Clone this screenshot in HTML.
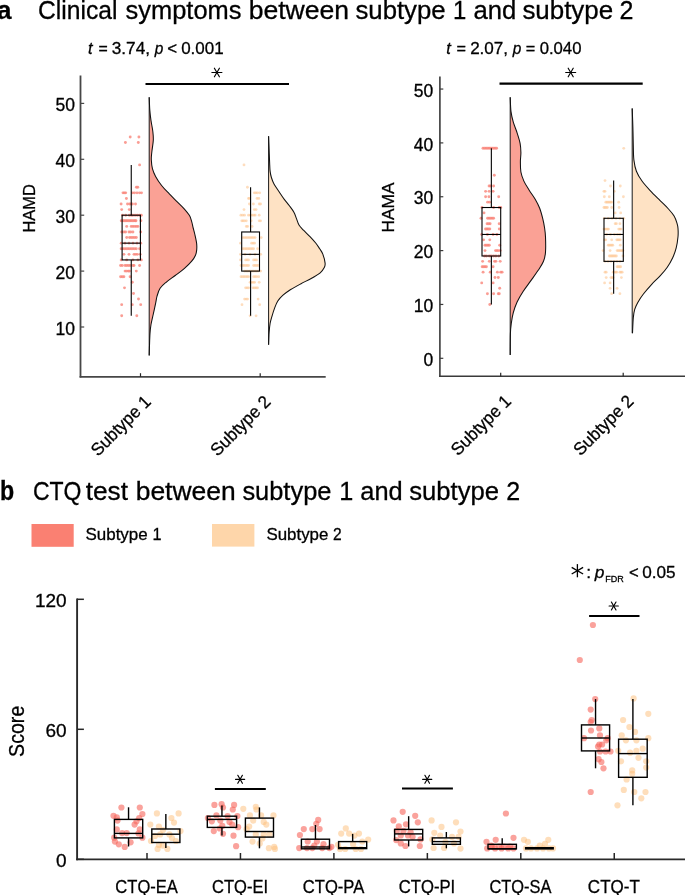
<!DOCTYPE html>
<html><head><meta charset="utf-8"><style>
html,body{margin:0;padding:0;background:#fff;width:685px;height:895px;overflow:hidden}
svg{display:block;will-change:transform}
text{font-family:"Liberation Sans",sans-serif;stroke:#000;stroke-width:0.3px}
</style></head><body>
<svg width="685" height="895" viewBox="0 0 685 895">
<rect width="685" height="895" fill="#fff"/>
<text x="-2.90" y="19.30" font-size="26" font-weight="bold" fill="#000">a</text>
<text x="37.95" y="19.30" font-size="26" textLength="79.5" lengthAdjust="spacingAndGlyphs" fill="#000">Clinical</text>
<text x="125.59" y="19.30" font-size="26" textLength="115.93" lengthAdjust="spacingAndGlyphs" fill="#000">symptoms</text>
<text x="248.69" y="19.30" font-size="26" textLength="100.44" lengthAdjust="spacingAndGlyphs" fill="#000">between</text>
<text x="355.48" y="19.30" font-size="26" textLength="90.16" lengthAdjust="spacingAndGlyphs" fill="#000">subtype</text>
<text x="452.88" y="19.30" font-size="26" textLength="13.29" lengthAdjust="spacingAndGlyphs" fill="#000">1</text>
<text x="473.41" y="19.30" font-size="26" textLength="42.85" lengthAdjust="spacingAndGlyphs" fill="#000">and</text>
<text x="522.38" y="19.30" font-size="26" textLength="90.77" lengthAdjust="spacingAndGlyphs" fill="#000">subtype</text>
<text x="619.44" y="19.30" font-size="26" textLength="13.92" lengthAdjust="spacingAndGlyphs" fill="#000">2</text>
<text x="88.05" y="54.40" font-size="17.3" textLength="4.58" lengthAdjust="spacingAndGlyphs" font-style="italic" fill="#000">t</text>
<text x="98.43" y="54.40" font-size="17.3" textLength="9.26" lengthAdjust="spacingAndGlyphs" fill="#000">=</text>
<text x="111.74" y="54.40" font-size="17.3" textLength="38.3" lengthAdjust="spacingAndGlyphs" fill="#000">3.74,</text>
<text x="154.79" y="54.40" font-size="17.3" textLength="8.61" lengthAdjust="spacingAndGlyphs" font-style="italic" fill="#000">p</text>
<text x="167.27" y="54.40" font-size="17.3" textLength="9.86" lengthAdjust="spacingAndGlyphs" fill="#000">&lt;</text>
<text x="181.14" y="54.40" font-size="17.3" textLength="42.49" lengthAdjust="spacingAndGlyphs" fill="#000">0.001</text>
<text x="446.15" y="54.40" font-size="17.3" textLength="4.58" lengthAdjust="spacingAndGlyphs" font-style="italic" fill="#000">t</text>
<text x="456.51" y="54.40" font-size="17.3" textLength="9.5" lengthAdjust="spacingAndGlyphs" fill="#000">=</text>
<text x="470.14" y="54.40" font-size="17.3" textLength="37.99" lengthAdjust="spacingAndGlyphs" fill="#000">2.07,</text>
<text x="512.79" y="54.40" font-size="17.3" textLength="8.61" lengthAdjust="spacingAndGlyphs" font-style="italic" fill="#000">p</text>
<text x="525.81" y="54.40" font-size="17.3" textLength="9.5" lengthAdjust="spacingAndGlyphs" fill="#000">=</text>
<text x="539.65" y="54.40" font-size="17.3" textLength="41.81" lengthAdjust="spacingAndGlyphs" fill="#000">0.040</text>
<line x1="80.50" y1="75.50" x2="80.50" y2="377.60" stroke="#474747" stroke-width="1.8" stroke-linecap="butt"/>
<line x1="79.60" y1="376.80" x2="325.70" y2="376.80" stroke="#474747" stroke-width="1.8" stroke-linecap="butt"/>
<line x1="80.50" y1="103.40" x2="84.20" y2="103.40" stroke="#474747" stroke-width="1.2" stroke-linecap="butt"/>
<text x="75.00" y="111.00" font-size="17.5" text-anchor="end" fill="#000">50</text>
<line x1="80.50" y1="159.30" x2="84.20" y2="159.30" stroke="#474747" stroke-width="1.2" stroke-linecap="butt"/>
<text x="75.00" y="166.90" font-size="17.5" text-anchor="end" fill="#000">40</text>
<line x1="80.50" y1="215.20" x2="84.20" y2="215.20" stroke="#474747" stroke-width="1.2" stroke-linecap="butt"/>
<text x="75.00" y="222.80" font-size="17.5" text-anchor="end" fill="#000">30</text>
<line x1="80.50" y1="271.10" x2="84.20" y2="271.10" stroke="#474747" stroke-width="1.2" stroke-linecap="butt"/>
<text x="75.00" y="278.70" font-size="17.5" text-anchor="end" fill="#000">20</text>
<line x1="80.50" y1="327.00" x2="84.20" y2="327.00" stroke="#474747" stroke-width="1.2" stroke-linecap="butt"/>
<text x="75.00" y="334.60" font-size="17.5" text-anchor="end" fill="#000">10</text>
<line x1="140.50" y1="376.80" x2="140.50" y2="373.20" stroke="#262626" stroke-width="1.2" stroke-linecap="butt"/>
<line x1="260.20" y1="376.80" x2="260.20" y2="373.20" stroke="#262626" stroke-width="1.2" stroke-linecap="butt"/>
<text x="35.00" y="232.60" font-size="17.2" textLength="48.5" lengthAdjust="spacingAndGlyphs" transform="rotate(-90 35.00 232.60)" fill="#000">HAMD</text>
<line x1="439.90" y1="76.50" x2="439.90" y2="377.10" stroke="#3a3a3a" stroke-width="1.6" stroke-linecap="butt"/>
<line x1="439.10" y1="376.30" x2="685.00" y2="376.30" stroke="#3a3a3a" stroke-width="1.6" stroke-linecap="butt"/>
<line x1="439.90" y1="89.05" x2="443.30" y2="89.05" stroke="#3a3a3a" stroke-width="1.2" stroke-linecap="butt"/>
<text x="433.30" y="96.65" font-size="17.5" text-anchor="end" fill="#000">50</text>
<line x1="439.90" y1="142.90" x2="443.30" y2="142.90" stroke="#3a3a3a" stroke-width="1.2" stroke-linecap="butt"/>
<text x="433.30" y="150.50" font-size="17.5" text-anchor="end" fill="#000">40</text>
<line x1="439.90" y1="196.75" x2="443.30" y2="196.75" stroke="#3a3a3a" stroke-width="1.2" stroke-linecap="butt"/>
<text x="433.30" y="204.35" font-size="17.5" text-anchor="end" fill="#000">30</text>
<line x1="439.90" y1="250.60" x2="443.30" y2="250.60" stroke="#3a3a3a" stroke-width="1.2" stroke-linecap="butt"/>
<text x="433.30" y="258.20" font-size="17.5" text-anchor="end" fill="#000">20</text>
<line x1="439.90" y1="304.45" x2="443.30" y2="304.45" stroke="#3a3a3a" stroke-width="1.2" stroke-linecap="butt"/>
<text x="433.30" y="312.05" font-size="17.5" text-anchor="end" fill="#000">10</text>
<line x1="439.90" y1="358.30" x2="443.30" y2="358.30" stroke="#3a3a3a" stroke-width="1.2" stroke-linecap="butt"/>
<text x="433.30" y="365.90" font-size="17.5" text-anchor="end" fill="#000">0</text>
<line x1="500.70" y1="376.30" x2="500.70" y2="372.70" stroke="#262626" stroke-width="1.2" stroke-linecap="butt"/>
<line x1="623.20" y1="376.30" x2="623.20" y2="372.70" stroke="#262626" stroke-width="1.2" stroke-linecap="butt"/>
<text x="393.70" y="232.40" font-size="17.2" textLength="50" lengthAdjust="spacingAndGlyphs" transform="rotate(-90 393.70 232.40)" fill="#000">HAMA</text>
<text x="152.00" y="402.80" font-size="17.6" textLength="76.5" lengthAdjust="spacingAndGlyphs" text-anchor="end" transform="rotate(-45 152.00 402.80)" fill="#000">Subtype 1</text>
<text x="271.70" y="402.80" font-size="17.6" textLength="76.5" lengthAdjust="spacingAndGlyphs" text-anchor="end" transform="rotate(-45 271.70 402.80)" fill="#000">Subtype 2</text>
<text x="512.20" y="402.30" font-size="17.6" textLength="76.5" lengthAdjust="spacingAndGlyphs" text-anchor="end" transform="rotate(-45 512.20 402.30)" fill="#000">Subtype 1</text>
<text x="634.70" y="402.30" font-size="17.6" textLength="76.5" lengthAdjust="spacingAndGlyphs" text-anchor="end" transform="rotate(-45 634.70 402.30)" fill="#000">Subtype 2</text>
<line x1="145.50" y1="84.00" x2="289.00" y2="84.00" stroke="#000" stroke-width="2.2" stroke-linecap="butt"/>
<line x1="211.90" y1="72.50" x2="221.90" y2="72.50" stroke="#000" stroke-width="1.15" stroke-linecap="round"/>
<line x1="214.40" y1="68.17" x2="219.40" y2="76.83" stroke="#000" stroke-width="1.15" stroke-linecap="round"/>
<line x1="219.40" y1="68.17" x2="214.40" y2="76.83" stroke="#000" stroke-width="1.15" stroke-linecap="round"/>
<line x1="499.50" y1="83.70" x2="642.70" y2="83.70" stroke="#000" stroke-width="2.2" stroke-linecap="butt"/>
<line x1="565.70" y1="72.50" x2="575.70" y2="72.50" stroke="#000" stroke-width="1.15" stroke-linecap="round"/>
<line x1="568.20" y1="68.17" x2="573.20" y2="76.83" stroke="#000" stroke-width="1.15" stroke-linecap="round"/>
<line x1="573.20" y1="68.17" x2="568.20" y2="76.83" stroke="#000" stroke-width="1.15" stroke-linecap="round"/>
<path d="M149.20,97.30 C149.30,99.43 149.50,106.22 149.80,110.10 C150.10,113.98 150.50,117.08 151.00,120.60 C151.50,124.12 152.42,127.93 152.80,131.20 C153.18,134.47 153.47,136.68 153.30,140.20 C153.13,143.72 152.13,149.03 151.80,152.30 C151.47,155.57 151.18,157.03 151.30,159.80 C151.42,162.57 151.78,166.13 152.50,168.90 C153.22,171.67 154.08,173.63 155.60,176.40 C157.12,179.17 159.35,182.62 161.60,185.50 C163.85,188.38 166.58,191.07 169.10,193.70 C171.62,196.33 174.18,198.78 176.70,201.30 C179.22,203.82 182.07,206.42 184.20,208.80 C186.33,211.18 188.25,213.47 189.50,215.60 C190.75,217.73 191.08,219.53 191.70,221.60 C192.32,223.67 192.69,225.93 193.20,228.00 C193.71,230.07 194.18,231.48 194.75,234.00 C195.32,236.52 196.28,240.45 196.60,243.10 C196.92,245.75 196.88,247.88 196.70,249.90 C196.52,251.92 196.33,253.32 195.50,255.20 C194.67,257.08 193.58,258.95 191.70,261.20 C189.82,263.45 186.95,266.32 184.20,268.70 C181.45,271.08 178.22,273.23 175.20,275.50 C172.18,277.77 168.62,280.17 166.10,282.30 C163.58,284.43 161.60,286.03 160.10,288.30 C158.60,290.57 157.85,293.38 157.10,295.90 C156.35,298.42 156.23,300.38 155.60,303.40 C154.97,306.42 154.07,310.48 153.30,314.00 C152.53,317.52 151.55,321.25 151.00,324.50 C150.45,327.75 150.25,329.98 150.00,333.50 C149.75,337.02 149.63,341.95 149.50,345.60 C149.37,349.25 149.25,353.77 149.20,355.40 L149.20,97.30 Z" fill="#FAA195" stroke="none"/>
<line x1="149.20" y1="97.30" x2="149.20" y2="355.40" stroke="#1a1a1a" stroke-width="1.0" stroke-linecap="butt"/>
<path d="M149.20,97.30 C149.30,99.43 149.50,106.22 149.80,110.10 C150.10,113.98 150.50,117.08 151.00,120.60 C151.50,124.12 152.42,127.93 152.80,131.20 C153.18,134.47 153.47,136.68 153.30,140.20 C153.13,143.72 152.13,149.03 151.80,152.30 C151.47,155.57 151.18,157.03 151.30,159.80 C151.42,162.57 151.78,166.13 152.50,168.90 C153.22,171.67 154.08,173.63 155.60,176.40 C157.12,179.17 159.35,182.62 161.60,185.50 C163.85,188.38 166.58,191.07 169.10,193.70 C171.62,196.33 174.18,198.78 176.70,201.30 C179.22,203.82 182.07,206.42 184.20,208.80 C186.33,211.18 188.25,213.47 189.50,215.60 C190.75,217.73 191.08,219.53 191.70,221.60 C192.32,223.67 192.69,225.93 193.20,228.00 C193.71,230.07 194.18,231.48 194.75,234.00 C195.32,236.52 196.28,240.45 196.60,243.10 C196.92,245.75 196.88,247.88 196.70,249.90 C196.52,251.92 196.33,253.32 195.50,255.20 C194.67,257.08 193.58,258.95 191.70,261.20 C189.82,263.45 186.95,266.32 184.20,268.70 C181.45,271.08 178.22,273.23 175.20,275.50 C172.18,277.77 168.62,280.17 166.10,282.30 C163.58,284.43 161.60,286.03 160.10,288.30 C158.60,290.57 157.85,293.38 157.10,295.90 C156.35,298.42 156.23,300.38 155.60,303.40 C154.97,306.42 154.07,310.48 153.30,314.00 C152.53,317.52 151.55,321.25 151.00,324.50 C150.45,327.75 150.25,329.98 150.00,333.50 C149.75,337.02 149.63,341.95 149.50,345.60 C149.37,349.25 149.25,353.77 149.20,355.40" fill="none" stroke="#111" stroke-width="1.05"/>
<path d="M268.60,136.20 C268.68,138.38 268.93,144.98 269.10,149.30 C269.27,153.62 269.43,158.47 269.60,162.10 C269.77,165.73 269.80,168.53 270.10,171.10 C270.40,173.67 270.75,175.35 271.40,177.50 C272.05,179.65 272.72,181.63 274.00,184.00 C275.28,186.37 277.38,189.13 279.10,191.70 C280.82,194.27 282.58,197.05 284.30,199.40 C286.02,201.75 287.80,203.67 289.40,205.80 C291.00,207.93 292.72,210.07 293.90,212.20 C295.08,214.33 295.65,216.47 296.50,218.60 C297.35,220.73 297.83,223.07 299.00,225.00 C300.17,226.93 301.67,228.27 303.50,230.20 C305.33,232.13 307.97,234.47 310.00,236.60 C312.03,238.73 314.12,241.02 315.70,243.00 C317.28,244.98 318.32,246.65 319.50,248.50 C320.68,250.35 321.87,251.67 322.80,254.10 C323.73,256.53 324.85,260.85 325.10,263.10 C325.35,265.35 325.12,265.98 324.30,267.60 C323.48,269.22 322.38,270.98 320.20,272.80 C318.02,274.62 314.40,276.68 311.20,278.50 C308.00,280.32 304.42,281.87 301.00,283.70 C297.58,285.53 293.70,287.58 290.70,289.50 C287.70,291.42 285.15,293.28 283.00,295.20 C280.85,297.12 279.20,298.85 277.80,301.00 C276.40,303.15 275.55,305.63 274.60,308.10 C273.65,310.57 272.85,313.23 272.10,315.80 C271.35,318.37 270.60,320.72 270.10,323.50 C269.60,326.28 269.35,328.97 269.10,332.50 C268.85,336.03 268.68,342.67 268.60,344.70 L268.60,136.20 Z" fill="#FEE2C4" stroke="none"/>
<line x1="268.60" y1="136.20" x2="268.60" y2="344.70" stroke="#1a1a1a" stroke-width="1.0" stroke-linecap="butt"/>
<path d="M268.60,136.20 C268.68,138.38 268.93,144.98 269.10,149.30 C269.27,153.62 269.43,158.47 269.60,162.10 C269.77,165.73 269.80,168.53 270.10,171.10 C270.40,173.67 270.75,175.35 271.40,177.50 C272.05,179.65 272.72,181.63 274.00,184.00 C275.28,186.37 277.38,189.13 279.10,191.70 C280.82,194.27 282.58,197.05 284.30,199.40 C286.02,201.75 287.80,203.67 289.40,205.80 C291.00,207.93 292.72,210.07 293.90,212.20 C295.08,214.33 295.65,216.47 296.50,218.60 C297.35,220.73 297.83,223.07 299.00,225.00 C300.17,226.93 301.67,228.27 303.50,230.20 C305.33,232.13 307.97,234.47 310.00,236.60 C312.03,238.73 314.12,241.02 315.70,243.00 C317.28,244.98 318.32,246.65 319.50,248.50 C320.68,250.35 321.87,251.67 322.80,254.10 C323.73,256.53 324.85,260.85 325.10,263.10 C325.35,265.35 325.12,265.98 324.30,267.60 C323.48,269.22 322.38,270.98 320.20,272.80 C318.02,274.62 314.40,276.68 311.20,278.50 C308.00,280.32 304.42,281.87 301.00,283.70 C297.58,285.53 293.70,287.58 290.70,289.50 C287.70,291.42 285.15,293.28 283.00,295.20 C280.85,297.12 279.20,298.85 277.80,301.00 C276.40,303.15 275.55,305.63 274.60,308.10 C273.65,310.57 272.85,313.23 272.10,315.80 C271.35,318.37 270.60,320.72 270.10,323.50 C269.60,326.28 269.35,328.97 269.10,332.50 C268.85,336.03 268.68,342.67 268.60,344.70" fill="none" stroke="#111" stroke-width="1.05"/>
<path d="M510.20,97.30 C510.33,99.68 510.48,107.45 511.00,111.60 C511.52,115.75 512.28,118.67 513.30,122.20 C514.32,125.73 515.97,129.28 517.10,132.80 C518.23,136.32 519.47,140.03 520.10,143.30 C520.73,146.57 520.85,149.37 520.90,152.40 C520.95,155.43 520.40,158.23 520.40,161.50 C520.40,164.77 520.32,168.73 520.90,172.00 C521.48,175.27 522.52,178.07 523.90,181.10 C525.28,184.13 527.32,187.18 529.20,190.20 C531.08,193.22 533.45,196.18 535.20,199.20 C536.95,202.22 538.43,205.02 539.70,208.30 C540.97,211.58 541.98,215.62 542.80,218.90 C543.62,222.18 544.15,224.97 544.60,228.00 C545.05,231.03 545.35,233.07 545.50,237.10 C545.65,241.13 545.83,248.17 545.50,252.20 C545.17,256.23 544.72,258.28 543.50,261.30 C542.28,264.32 540.33,267.03 538.20,270.30 C536.07,273.57 533.22,277.37 530.70,280.90 C528.18,284.43 525.37,287.98 523.10,291.50 C520.83,295.02 518.73,298.48 517.10,302.00 C515.47,305.52 514.27,309.07 513.30,312.60 C512.33,316.13 511.78,319.67 511.30,323.20 C510.82,326.73 510.58,328.52 510.40,333.80 C510.22,339.08 510.23,351.38 510.20,354.90 L510.20,97.30 Z" fill="#FAA195" stroke="none"/>
<line x1="510.20" y1="97.30" x2="510.20" y2="354.90" stroke="#1a1a1a" stroke-width="1.0" stroke-linecap="butt"/>
<path d="M510.20,97.30 C510.33,99.68 510.48,107.45 511.00,111.60 C511.52,115.75 512.28,118.67 513.30,122.20 C514.32,125.73 515.97,129.28 517.10,132.80 C518.23,136.32 519.47,140.03 520.10,143.30 C520.73,146.57 520.85,149.37 520.90,152.40 C520.95,155.43 520.40,158.23 520.40,161.50 C520.40,164.77 520.32,168.73 520.90,172.00 C521.48,175.27 522.52,178.07 523.90,181.10 C525.28,184.13 527.32,187.18 529.20,190.20 C531.08,193.22 533.45,196.18 535.20,199.20 C536.95,202.22 538.43,205.02 539.70,208.30 C540.97,211.58 541.98,215.62 542.80,218.90 C543.62,222.18 544.15,224.97 544.60,228.00 C545.05,231.03 545.35,233.07 545.50,237.10 C545.65,241.13 545.83,248.17 545.50,252.20 C545.17,256.23 544.72,258.28 543.50,261.30 C542.28,264.32 540.33,267.03 538.20,270.30 C536.07,273.57 533.22,277.37 530.70,280.90 C528.18,284.43 525.37,287.98 523.10,291.50 C520.83,295.02 518.73,298.48 517.10,302.00 C515.47,305.52 514.27,309.07 513.30,312.60 C512.33,316.13 511.78,319.67 511.30,323.20 C510.82,326.73 510.58,328.52 510.40,333.80 C510.22,339.08 510.23,351.38 510.20,354.90" fill="none" stroke="#111" stroke-width="1.05"/>
<path d="M632.20,108.40 C632.32,111.65 632.72,121.62 632.90,127.90 C633.08,134.18 633.13,140.73 633.30,146.10 C633.47,151.47 633.38,155.92 633.90,160.10 C634.42,164.28 635.05,167.72 636.40,171.20 C637.75,174.68 639.67,177.73 642.00,181.00 C644.33,184.27 647.38,187.53 650.40,190.80 C653.42,194.07 657.08,197.57 660.10,200.60 C663.12,203.63 666.17,206.43 668.50,209.00 C670.83,211.57 672.70,213.68 674.10,216.00 C675.50,218.32 676.25,220.83 676.90,222.90 C677.55,224.97 677.82,226.08 678.00,228.40 C678.18,230.72 678.30,233.55 678.00,236.80 C677.70,240.05 677.08,244.42 676.20,247.90 C675.32,251.38 674.22,254.43 672.70,257.70 C671.18,260.97 669.20,264.47 667.10,267.50 C665.00,270.53 662.67,273.10 660.10,275.90 C657.53,278.70 654.48,281.28 651.70,284.30 C648.92,287.32 645.72,290.98 643.40,294.00 C641.08,297.02 639.25,299.83 637.80,302.40 C636.35,304.97 635.45,306.83 634.70,309.40 C633.95,311.97 633.67,313.83 633.30,317.80 C632.93,321.77 632.63,330.63 632.50,333.20 L632.20,108.40 Z" fill="#FEE2C4" stroke="none"/>
<line x1="632.20" y1="108.40" x2="632.20" y2="333.20" stroke="#1a1a1a" stroke-width="1.0" stroke-linecap="butt"/>
<path d="M632.20,108.40 C632.32,111.65 632.72,121.62 632.90,127.90 C633.08,134.18 633.13,140.73 633.30,146.10 C633.47,151.47 633.38,155.92 633.90,160.10 C634.42,164.28 635.05,167.72 636.40,171.20 C637.75,174.68 639.67,177.73 642.00,181.00 C644.33,184.27 647.38,187.53 650.40,190.80 C653.42,194.07 657.08,197.57 660.10,200.60 C663.12,203.63 666.17,206.43 668.50,209.00 C670.83,211.57 672.70,213.68 674.10,216.00 C675.50,218.32 676.25,220.83 676.90,222.90 C677.55,224.97 677.82,226.08 678.00,228.40 C678.18,230.72 678.30,233.55 678.00,236.80 C677.70,240.05 677.08,244.42 676.20,247.90 C675.32,251.38 674.22,254.43 672.70,257.70 C671.18,260.97 669.20,264.47 667.10,267.50 C665.00,270.53 662.67,273.10 660.10,275.90 C657.53,278.70 654.48,281.28 651.70,284.30 C648.92,287.32 645.72,290.98 643.40,294.00 C641.08,297.02 639.25,299.83 637.80,302.40 C636.35,304.97 635.45,306.83 634.70,309.40 C633.95,311.97 633.67,313.83 633.30,317.80 C632.93,321.77 632.63,330.63 632.50,333.20" fill="none" stroke="#111" stroke-width="1.05"/>
<g fill="#F98479" fill-opacity="0.8"><circle cx="130.20" cy="136.94" r="1.45"/><circle cx="138.90" cy="136.94" r="1.45"/><circle cx="125.40" cy="142.53" r="1.45"/><circle cx="138.30" cy="142.53" r="1.45"/><circle cx="139.60" cy="164.89" r="1.45"/><circle cx="136.40" cy="187.25" r="1.45"/><circle cx="137.80" cy="187.25" r="1.45"/><circle cx="123.00" cy="192.84" r="1.45"/><circle cx="124.40" cy="192.84" r="1.45"/><circle cx="125.70" cy="192.84" r="1.45"/><circle cx="132.50" cy="192.84" r="1.45"/><circle cx="134.50" cy="192.84" r="1.45"/><circle cx="137.00" cy="192.84" r="1.45"/><circle cx="139.50" cy="192.84" r="1.45"/><circle cx="141.50" cy="192.84" r="1.45"/><circle cx="126.40" cy="198.43" r="1.45"/><circle cx="121.10" cy="204.02" r="1.45"/><circle cx="127.50" cy="204.02" r="1.45"/><circle cx="129.70" cy="204.02" r="1.45"/><circle cx="131.00" cy="204.02" r="1.45"/><circle cx="132.40" cy="204.02" r="1.45"/><circle cx="135.50" cy="204.02" r="1.45"/><circle cx="121.70" cy="209.61" r="1.45"/><circle cx="129.30" cy="209.61" r="1.45"/><circle cx="122.50" cy="215.20" r="1.45"/><circle cx="125.70" cy="215.20" r="1.45"/><circle cx="129.30" cy="215.20" r="1.45"/><circle cx="131.30" cy="215.20" r="1.45"/><circle cx="132.90" cy="215.20" r="1.45"/><circle cx="135.10" cy="215.20" r="1.45"/><circle cx="137.30" cy="215.20" r="1.45"/><circle cx="139.60" cy="215.20" r="1.45"/><circle cx="141.30" cy="215.20" r="1.45"/><circle cx="121.30" cy="220.79" r="1.45"/><circle cx="123.00" cy="220.79" r="1.45"/><circle cx="124.40" cy="220.79" r="1.45"/><circle cx="125.70" cy="220.79" r="1.45"/><circle cx="127.00" cy="220.79" r="1.45"/><circle cx="128.40" cy="220.79" r="1.45"/><circle cx="129.70" cy="220.79" r="1.45"/><circle cx="131.00" cy="220.79" r="1.45"/><circle cx="132.40" cy="220.79" r="1.45"/><circle cx="133.75" cy="220.79" r="1.45"/><circle cx="135.10" cy="220.79" r="1.45"/><circle cx="136.00" cy="220.79" r="1.45"/><circle cx="140.90" cy="220.79" r="1.45"/><circle cx="126.70" cy="226.38" r="1.45"/><circle cx="131.20" cy="226.38" r="1.45"/><circle cx="132.90" cy="226.38" r="1.45"/><circle cx="134.60" cy="226.38" r="1.45"/><circle cx="136.30" cy="226.38" r="1.45"/><circle cx="137.90" cy="226.38" r="1.45"/><circle cx="121.70" cy="231.97" r="1.45"/><circle cx="123.90" cy="231.97" r="1.45"/><circle cx="125.60" cy="231.97" r="1.45"/><circle cx="129.00" cy="231.97" r="1.45"/><circle cx="130.70" cy="231.97" r="1.45"/><circle cx="132.90" cy="231.97" r="1.45"/><circle cx="140.70" cy="231.97" r="1.45"/><circle cx="126.70" cy="237.56" r="1.45"/><circle cx="129.50" cy="237.56" r="1.45"/><circle cx="131.20" cy="237.56" r="1.45"/><circle cx="132.90" cy="237.56" r="1.45"/><circle cx="134.60" cy="237.56" r="1.45"/><circle cx="136.30" cy="237.56" r="1.45"/><circle cx="121.20" cy="243.15" r="1.45"/><circle cx="140.70" cy="243.15" r="1.45"/><circle cx="125.00" cy="243.15" r="1.45"/><circle cx="129.00" cy="243.15" r="1.45"/><circle cx="133.00" cy="243.15" r="1.45"/><circle cx="137.00" cy="243.15" r="1.45"/><circle cx="121.20" cy="248.74" r="1.45"/><circle cx="122.80" cy="248.74" r="1.45"/><circle cx="124.50" cy="248.74" r="1.45"/><circle cx="126.20" cy="248.74" r="1.45"/><circle cx="127.90" cy="248.74" r="1.45"/><circle cx="129.50" cy="248.74" r="1.45"/><circle cx="131.20" cy="248.74" r="1.45"/><circle cx="132.90" cy="248.74" r="1.45"/><circle cx="134.60" cy="248.74" r="1.45"/><circle cx="136.30" cy="248.74" r="1.45"/><circle cx="139.60" cy="248.74" r="1.45"/><circle cx="123.90" cy="254.33" r="1.45"/><circle cx="129.00" cy="254.33" r="1.45"/><circle cx="134.00" cy="254.33" r="1.45"/><circle cx="135.70" cy="254.33" r="1.45"/><circle cx="137.40" cy="254.33" r="1.45"/><circle cx="140.20" cy="254.33" r="1.45"/><circle cx="121.20" cy="259.92" r="1.45"/><circle cx="126.70" cy="259.92" r="1.45"/><circle cx="132.90" cy="259.92" r="1.45"/><circle cx="137.90" cy="259.92" r="1.45"/><circle cx="141.30" cy="259.92" r="1.45"/><circle cx="120.60" cy="265.51" r="1.45"/><circle cx="122.30" cy="265.51" r="1.45"/><circle cx="125.10" cy="265.51" r="1.45"/><circle cx="126.70" cy="265.51" r="1.45"/><circle cx="128.40" cy="265.51" r="1.45"/><circle cx="130.10" cy="265.51" r="1.45"/><circle cx="132.90" cy="265.51" r="1.45"/><circle cx="134.00" cy="265.51" r="1.45"/><circle cx="139.60" cy="265.51" r="1.45"/><circle cx="125.10" cy="271.10" r="1.45"/><circle cx="126.70" cy="271.10" r="1.45"/><circle cx="128.40" cy="271.10" r="1.45"/><circle cx="129.50" cy="271.10" r="1.45"/><circle cx="136.30" cy="271.10" r="1.45"/><circle cx="120.60" cy="276.69" r="1.45"/><circle cx="122.30" cy="276.69" r="1.45"/><circle cx="123.90" cy="276.69" r="1.45"/><circle cx="130.10" cy="276.69" r="1.45"/><circle cx="132.30" cy="282.28" r="1.45"/><circle cx="124.50" cy="287.87" r="1.45"/><circle cx="133.50" cy="293.46" r="1.45"/><circle cx="138.50" cy="299.05" r="1.45"/><circle cx="121.70" cy="304.64" r="1.45"/><circle cx="132.30" cy="304.64" r="1.45"/><circle cx="140.70" cy="304.64" r="1.45"/><circle cx="121.70" cy="315.82" r="1.45"/><circle cx="136.80" cy="315.82" r="1.45"/></g>
<g fill="#FDC896" fill-opacity="0.62"><circle cx="244.00" cy="164.89" r="1.4"/><circle cx="247.40" cy="187.25" r="1.4"/><circle cx="254.30" cy="192.84" r="1.4"/><circle cx="255.80" cy="192.84" r="1.4"/><circle cx="257.40" cy="192.84" r="1.4"/><circle cx="259.70" cy="192.84" r="1.4"/><circle cx="248.50" cy="198.43" r="1.4"/><circle cx="249.40" cy="198.43" r="1.4"/><circle cx="257.00" cy="198.43" r="1.4"/><circle cx="258.80" cy="198.43" r="1.4"/><circle cx="249.40" cy="204.02" r="1.4"/><circle cx="253.40" cy="204.02" r="1.4"/><circle cx="259.20" cy="204.02" r="1.4"/><circle cx="260.60" cy="204.02" r="1.4"/><circle cx="244.00" cy="209.61" r="1.4"/><circle cx="254.30" cy="209.61" r="1.4"/><circle cx="256.10" cy="209.61" r="1.4"/><circle cx="240.90" cy="215.20" r="1.4"/><circle cx="242.70" cy="215.20" r="1.4"/><circle cx="244.50" cy="215.20" r="1.4"/><circle cx="248.50" cy="215.20" r="1.4"/><circle cx="250.30" cy="215.20" r="1.4"/><circle cx="252.10" cy="215.20" r="1.4"/><circle cx="253.90" cy="215.20" r="1.4"/><circle cx="255.20" cy="215.20" r="1.4"/><circle cx="259.20" cy="215.20" r="1.4"/><circle cx="241.80" cy="220.79" r="1.4"/><circle cx="243.10" cy="220.79" r="1.4"/><circle cx="244.50" cy="220.79" r="1.4"/><circle cx="246.30" cy="220.79" r="1.4"/><circle cx="251.20" cy="220.79" r="1.4"/><circle cx="259.20" cy="220.79" r="1.4"/><circle cx="260.60" cy="220.79" r="1.4"/><circle cx="246.30" cy="226.38" r="1.4"/><circle cx="247.60" cy="226.38" r="1.4"/><circle cx="252.10" cy="226.38" r="1.4"/><circle cx="243.00" cy="237.56" r="1.4"/><circle cx="244.60" cy="237.56" r="1.4"/><circle cx="246.10" cy="237.56" r="1.4"/><circle cx="247.60" cy="237.56" r="1.4"/><circle cx="249.10" cy="237.56" r="1.4"/><circle cx="250.60" cy="237.56" r="1.4"/><circle cx="252.10" cy="237.56" r="1.4"/><circle cx="253.60" cy="237.56" r="1.4"/><circle cx="255.10" cy="237.56" r="1.4"/><circle cx="261.20" cy="237.56" r="1.4"/><circle cx="240.50" cy="243.15" r="1.4"/><circle cx="251.60" cy="243.15" r="1.4"/><circle cx="253.10" cy="243.15" r="1.4"/><circle cx="254.60" cy="243.15" r="1.4"/><circle cx="243.00" cy="248.74" r="1.4"/><circle cx="244.60" cy="248.74" r="1.4"/><circle cx="246.10" cy="248.74" r="1.4"/><circle cx="247.60" cy="248.74" r="1.4"/><circle cx="249.10" cy="248.74" r="1.4"/><circle cx="250.60" cy="248.74" r="1.4"/><circle cx="252.10" cy="248.74" r="1.4"/><circle cx="253.60" cy="248.74" r="1.4"/><circle cx="257.60" cy="248.74" r="1.4"/><circle cx="240.50" cy="254.33" r="1.4"/><circle cx="260.70" cy="254.33" r="1.4"/><circle cx="245.00" cy="254.33" r="1.4"/><circle cx="250.00" cy="254.33" r="1.4"/><circle cx="255.00" cy="254.33" r="1.4"/><circle cx="240.50" cy="259.92" r="1.4"/><circle cx="245.60" cy="259.92" r="1.4"/><circle cx="247.10" cy="259.92" r="1.4"/><circle cx="248.60" cy="259.92" r="1.4"/><circle cx="253.60" cy="259.92" r="1.4"/><circle cx="255.10" cy="259.92" r="1.4"/><circle cx="256.60" cy="259.92" r="1.4"/><circle cx="241.00" cy="265.51" r="1.4"/><circle cx="242.50" cy="265.51" r="1.4"/><circle cx="244.00" cy="265.51" r="1.4"/><circle cx="245.60" cy="265.51" r="1.4"/><circle cx="247.10" cy="265.51" r="1.4"/><circle cx="248.60" cy="265.51" r="1.4"/><circle cx="253.60" cy="265.51" r="1.4"/><circle cx="255.10" cy="265.51" r="1.4"/><circle cx="256.60" cy="265.51" r="1.4"/><circle cx="258.10" cy="265.51" r="1.4"/><circle cx="244.60" cy="271.10" r="1.4"/><circle cx="246.10" cy="271.10" r="1.4"/><circle cx="247.60" cy="271.10" r="1.4"/><circle cx="249.10" cy="271.10" r="1.4"/><circle cx="250.60" cy="271.10" r="1.4"/><circle cx="252.10" cy="271.10" r="1.4"/><circle cx="253.60" cy="271.10" r="1.4"/><circle cx="255.10" cy="271.10" r="1.4"/><circle cx="256.60" cy="271.10" r="1.4"/><circle cx="258.10" cy="271.10" r="1.4"/><circle cx="260.70" cy="271.10" r="1.4"/><circle cx="241.00" cy="276.69" r="1.4"/><circle cx="242.50" cy="276.69" r="1.4"/><circle cx="244.00" cy="276.69" r="1.4"/><circle cx="245.60" cy="276.69" r="1.4"/><circle cx="247.10" cy="276.69" r="1.4"/><circle cx="248.60" cy="276.69" r="1.4"/><circle cx="253.60" cy="276.69" r="1.4"/><circle cx="255.10" cy="276.69" r="1.4"/><circle cx="256.60" cy="276.69" r="1.4"/><circle cx="258.70" cy="276.69" r="1.4"/><circle cx="250.10" cy="282.28" r="1.4"/><circle cx="251.60" cy="282.28" r="1.4"/><circle cx="253.10" cy="282.28" r="1.4"/><circle cx="254.60" cy="282.28" r="1.4"/><circle cx="259.20" cy="282.28" r="1.4"/><circle cx="245.60" cy="287.87" r="1.4"/><circle cx="247.10" cy="287.87" r="1.4"/><circle cx="248.60" cy="287.87" r="1.4"/><circle cx="253.10" cy="287.87" r="1.4"/><circle cx="254.60" cy="287.87" r="1.4"/><circle cx="256.10" cy="287.87" r="1.4"/><circle cx="257.60" cy="287.87" r="1.4"/><circle cx="244.60" cy="299.05" r="1.4"/><circle cx="246.10" cy="299.05" r="1.4"/><circle cx="247.60" cy="299.05" r="1.4"/><circle cx="258.10" cy="299.05" r="1.4"/><circle cx="242.00" cy="304.64" r="1.4"/><circle cx="259.70" cy="304.64" r="1.4"/><circle cx="250.10" cy="315.82" r="1.4"/><circle cx="256.10" cy="315.82" r="1.4"/></g>
<g fill="#F98479" fill-opacity="0.8"><circle cx="483.00" cy="148.29" r="1.45"/><circle cx="484.60" cy="148.29" r="1.45"/><circle cx="486.10" cy="148.29" r="1.45"/><circle cx="487.60" cy="148.29" r="1.45"/><circle cx="489.10" cy="148.29" r="1.45"/><circle cx="490.60" cy="148.29" r="1.45"/><circle cx="492.10" cy="148.29" r="1.45"/><circle cx="493.60" cy="148.29" r="1.45"/><circle cx="495.10" cy="148.29" r="1.45"/><circle cx="496.60" cy="148.29" r="1.45"/><circle cx="494.30" cy="175.21" r="1.45"/><circle cx="489.10" cy="185.98" r="1.45"/><circle cx="490.60" cy="185.98" r="1.45"/><circle cx="493.60" cy="185.98" r="1.45"/><circle cx="485.60" cy="191.37" r="1.45"/><circle cx="489.10" cy="191.37" r="1.45"/><circle cx="493.10" cy="191.37" r="1.45"/><circle cx="485.60" cy="196.75" r="1.45"/><circle cx="488.90" cy="196.75" r="1.45"/><circle cx="498.70" cy="196.75" r="1.45"/><circle cx="487.60" cy="202.14" r="1.45"/><circle cx="489.60" cy="202.14" r="1.45"/><circle cx="482.00" cy="207.52" r="1.45"/><circle cx="493.60" cy="207.52" r="1.45"/><circle cx="499.20" cy="207.52" r="1.45"/><circle cx="500.70" cy="207.52" r="1.45"/><circle cx="484.00" cy="212.91" r="1.45"/><circle cx="481.00" cy="218.29" r="1.45"/><circle cx="487.60" cy="218.29" r="1.45"/><circle cx="489.10" cy="218.29" r="1.45"/><circle cx="490.60" cy="218.29" r="1.45"/><circle cx="492.10" cy="218.29" r="1.45"/><circle cx="493.60" cy="218.29" r="1.45"/><circle cx="487.10" cy="223.68" r="1.45"/><circle cx="488.60" cy="223.68" r="1.45"/><circle cx="490.10" cy="223.68" r="1.45"/><circle cx="499.20" cy="223.68" r="1.45"/><circle cx="485.50" cy="229.06" r="1.45"/><circle cx="486.90" cy="229.06" r="1.45"/><circle cx="488.30" cy="229.06" r="1.45"/><circle cx="489.80" cy="229.06" r="1.45"/><circle cx="499.30" cy="229.06" r="1.45"/><circle cx="481.70" cy="234.45" r="1.45"/><circle cx="487.40" cy="234.45" r="1.45"/><circle cx="493.10" cy="234.45" r="1.45"/><circle cx="496.90" cy="234.45" r="1.45"/><circle cx="483.60" cy="239.83" r="1.45"/><circle cx="489.80" cy="239.83" r="1.45"/><circle cx="485.00" cy="245.22" r="1.45"/><circle cx="486.40" cy="245.22" r="1.45"/><circle cx="487.90" cy="245.22" r="1.45"/><circle cx="489.30" cy="245.22" r="1.45"/><circle cx="499.70" cy="245.22" r="1.45"/><circle cx="485.00" cy="250.60" r="1.45"/><circle cx="495.50" cy="250.60" r="1.45"/><circle cx="496.90" cy="250.60" r="1.45"/><circle cx="498.30" cy="250.60" r="1.45"/><circle cx="500.20" cy="250.60" r="1.45"/><circle cx="484.50" cy="255.99" r="1.45"/><circle cx="486.40" cy="255.99" r="1.45"/><circle cx="489.30" cy="255.99" r="1.45"/><circle cx="491.20" cy="255.99" r="1.45"/><circle cx="493.60" cy="255.99" r="1.45"/><circle cx="495.90" cy="255.99" r="1.45"/><circle cx="498.80" cy="255.99" r="1.45"/><circle cx="482.60" cy="261.37" r="1.45"/><circle cx="489.30" cy="261.37" r="1.45"/><circle cx="494.50" cy="261.37" r="1.45"/><circle cx="495.90" cy="261.37" r="1.45"/><circle cx="500.20" cy="261.37" r="1.45"/><circle cx="482.20" cy="266.75" r="1.45"/><circle cx="483.60" cy="266.75" r="1.45"/><circle cx="485.00" cy="266.75" r="1.45"/><circle cx="486.40" cy="266.75" r="1.45"/><circle cx="493.10" cy="266.75" r="1.45"/><circle cx="483.10" cy="272.14" r="1.45"/><circle cx="490.20" cy="272.14" r="1.45"/><circle cx="497.40" cy="272.14" r="1.45"/><circle cx="500.70" cy="272.14" r="1.45"/><circle cx="502.10" cy="272.14" r="1.45"/><circle cx="495.00" cy="277.53" r="1.45"/><circle cx="498.30" cy="277.53" r="1.45"/><circle cx="481.70" cy="282.91" r="1.45"/><circle cx="493.10" cy="282.91" r="1.45"/><circle cx="499.70" cy="288.30" r="1.45"/><circle cx="487.40" cy="293.68" r="1.45"/><circle cx="493.60" cy="293.68" r="1.45"/><circle cx="498.30" cy="293.68" r="1.45"/><circle cx="499.30" cy="293.68" r="1.45"/><circle cx="489.80" cy="304.45" r="1.45"/></g>
<g fill="#FDC896" fill-opacity="0.62"><circle cx="623.75" cy="148.29" r="1.4"/><circle cx="605.00" cy="180.60" r="1.4"/><circle cx="610.50" cy="185.98" r="1.4"/><circle cx="620.30" cy="185.98" r="1.4"/><circle cx="603.90" cy="191.37" r="1.4"/><circle cx="605.00" cy="191.37" r="1.4"/><circle cx="614.40" cy="191.37" r="1.4"/><circle cx="604.30" cy="196.75" r="1.4"/><circle cx="609.30" cy="196.75" r="1.4"/><circle cx="623.40" cy="196.75" r="1.4"/><circle cx="605.80" cy="202.14" r="1.4"/><circle cx="607.00" cy="202.14" r="1.4"/><circle cx="608.20" cy="202.14" r="1.4"/><circle cx="609.40" cy="202.14" r="1.4"/><circle cx="610.60" cy="202.14" r="1.4"/><circle cx="611.70" cy="202.14" r="1.4"/><circle cx="618.70" cy="202.14" r="1.4"/><circle cx="603.90" cy="207.52" r="1.4"/><circle cx="605.00" cy="207.52" r="1.4"/><circle cx="606.20" cy="207.52" r="1.4"/><circle cx="607.40" cy="207.52" r="1.4"/><circle cx="611.70" cy="207.52" r="1.4"/><circle cx="619.10" cy="207.52" r="1.4"/><circle cx="615.20" cy="212.91" r="1.4"/><circle cx="620.70" cy="212.91" r="1.4"/><circle cx="604.30" cy="218.29" r="1.4"/><circle cx="608.20" cy="218.29" r="1.4"/><circle cx="612.10" cy="218.29" r="1.4"/><circle cx="616.00" cy="218.29" r="1.4"/><circle cx="619.90" cy="218.29" r="1.4"/><circle cx="623.80" cy="218.29" r="1.4"/><circle cx="615.20" cy="223.68" r="1.4"/><circle cx="616.40" cy="223.68" r="1.4"/><circle cx="619.90" cy="223.68" r="1.4"/><circle cx="603.90" cy="229.06" r="1.4"/><circle cx="605.00" cy="229.06" r="1.4"/><circle cx="606.20" cy="229.06" r="1.4"/><circle cx="607.40" cy="229.06" r="1.4"/><circle cx="608.50" cy="229.06" r="1.4"/><circle cx="618.70" cy="229.06" r="1.4"/><circle cx="619.90" cy="229.06" r="1.4"/><circle cx="621.00" cy="229.06" r="1.4"/><circle cx="606.60" cy="234.45" r="1.4"/><circle cx="610.50" cy="234.45" r="1.4"/><circle cx="614.40" cy="234.45" r="1.4"/><circle cx="617.50" cy="234.45" r="1.4"/><circle cx="619.90" cy="234.45" r="1.4"/><circle cx="604.60" cy="239.83" r="1.4"/><circle cx="605.80" cy="239.83" r="1.4"/><circle cx="611.70" cy="239.83" r="1.4"/><circle cx="616.75" cy="239.83" r="1.4"/><circle cx="617.90" cy="239.83" r="1.4"/><circle cx="619.10" cy="239.83" r="1.4"/><circle cx="620.30" cy="239.83" r="1.4"/><circle cx="608.20" cy="245.22" r="1.4"/><circle cx="609.30" cy="245.22" r="1.4"/><circle cx="610.50" cy="245.22" r="1.4"/><circle cx="611.70" cy="245.22" r="1.4"/><circle cx="612.80" cy="245.22" r="1.4"/><circle cx="620.30" cy="245.22" r="1.4"/><circle cx="603.10" cy="250.60" r="1.4"/><circle cx="610.10" cy="250.60" r="1.4"/><circle cx="617.10" cy="250.60" r="1.4"/><circle cx="618.30" cy="250.60" r="1.4"/><circle cx="619.50" cy="250.60" r="1.4"/><circle cx="620.70" cy="250.60" r="1.4"/><circle cx="621.80" cy="250.60" r="1.4"/><circle cx="623.00" cy="250.60" r="1.4"/><circle cx="609.30" cy="255.99" r="1.4"/><circle cx="610.50" cy="255.99" r="1.4"/><circle cx="611.70" cy="255.99" r="1.4"/><circle cx="612.80" cy="255.99" r="1.4"/><circle cx="614.00" cy="255.99" r="1.4"/><circle cx="615.20" cy="255.99" r="1.4"/><circle cx="616.40" cy="255.99" r="1.4"/><circle cx="623.00" cy="255.99" r="1.4"/><circle cx="605.00" cy="261.37" r="1.4"/><circle cx="608.00" cy="261.37" r="1.4"/><circle cx="611.00" cy="261.37" r="1.4"/><circle cx="614.00" cy="261.37" r="1.4"/><circle cx="617.00" cy="261.37" r="1.4"/><circle cx="620.00" cy="261.37" r="1.4"/><circle cx="617.10" cy="266.75" r="1.4"/><circle cx="618.30" cy="266.75" r="1.4"/><circle cx="619.50" cy="266.75" r="1.4"/><circle cx="620.70" cy="266.75" r="1.4"/><circle cx="605.00" cy="272.14" r="1.4"/><circle cx="606.20" cy="272.14" r="1.4"/><circle cx="613.20" cy="272.14" r="1.4"/><circle cx="614.40" cy="272.14" r="1.4"/><circle cx="615.60" cy="272.14" r="1.4"/><circle cx="616.75" cy="272.14" r="1.4"/><circle cx="619.90" cy="272.14" r="1.4"/><circle cx="621.00" cy="272.14" r="1.4"/><circle cx="622.20" cy="272.14" r="1.4"/><circle cx="606.20" cy="277.53" r="1.4"/><circle cx="610.90" cy="277.53" r="1.4"/><circle cx="612.10" cy="277.53" r="1.4"/><circle cx="613.20" cy="277.53" r="1.4"/><circle cx="621.40" cy="277.53" r="1.4"/><circle cx="604.60" cy="282.91" r="1.4"/><circle cx="610.10" cy="282.91" r="1.4"/><circle cx="610.10" cy="288.30" r="1.4"/><circle cx="617.10" cy="288.30" r="1.4"/><circle cx="611.70" cy="293.68" r="1.4"/><circle cx="619.90" cy="293.68" r="1.4"/></g>
<line x1="131.25" y1="164.89" x2="131.25" y2="215.20" stroke="#000" stroke-width="1.1" stroke-linecap="butt"/>
<line x1="131.25" y1="259.92" x2="131.25" y2="315.82" stroke="#000" stroke-width="1.1" stroke-linecap="butt"/>
<rect x="122.10" y="215.20" width="18.30" height="44.72" fill="none" stroke="#000" stroke-width="1.1"/>
<line x1="122.10" y1="243.15" x2="140.40" y2="243.15" stroke="#000" stroke-width="1.1" stroke-linecap="butt"/>
<line x1="250.60" y1="187.25" x2="250.60" y2="231.97" stroke="#000" stroke-width="1.1" stroke-linecap="butt"/>
<line x1="250.60" y1="271.10" x2="250.60" y2="315.82" stroke="#000" stroke-width="1.1" stroke-linecap="butt"/>
<rect x="241.70" y="231.97" width="17.80" height="39.13" fill="none" stroke="#000" stroke-width="1.1"/>
<line x1="241.70" y1="254.33" x2="259.50" y2="254.33" stroke="#000" stroke-width="1.1" stroke-linecap="butt"/>
<line x1="491.35" y1="148.29" x2="491.35" y2="207.52" stroke="#000" stroke-width="1.1" stroke-linecap="butt"/>
<line x1="491.35" y1="255.99" x2="491.35" y2="304.45" stroke="#000" stroke-width="1.1" stroke-linecap="butt"/>
<rect x="482.00" y="207.52" width="18.70" height="48.47" fill="none" stroke="#000" stroke-width="1.1"/>
<line x1="482.00" y1="234.45" x2="500.70" y2="234.45" stroke="#000" stroke-width="1.1" stroke-linecap="butt"/>
<line x1="613.65" y1="180.60" x2="613.65" y2="218.29" stroke="#000" stroke-width="1.1" stroke-linecap="butt"/>
<line x1="613.65" y1="261.37" x2="613.65" y2="293.68" stroke="#000" stroke-width="1.1" stroke-linecap="butt"/>
<rect x="604.00" y="218.29" width="19.30" height="43.08" fill="none" stroke="#000" stroke-width="1.1"/>
<line x1="604.00" y1="234.45" x2="623.30" y2="234.45" stroke="#000" stroke-width="1.1" stroke-linecap="butt"/>
<text x="-0.10" y="499.60" font-size="27.3" textLength="14.2" lengthAdjust="spacingAndGlyphs" font-weight="bold" fill="#000">b</text>
<text x="32.93" y="499.50" font-size="26" textLength="48.57" lengthAdjust="spacingAndGlyphs" fill="#000">CTQ</text>
<text x="85.80" y="499.50" font-size="26" textLength="42.19" lengthAdjust="spacingAndGlyphs" fill="#000">test</text>
<text x="135.70" y="499.50" font-size="26" textLength="99.92" lengthAdjust="spacingAndGlyphs" fill="#000">between</text>
<text x="242.39" y="499.50" font-size="26" textLength="89.04" lengthAdjust="spacingAndGlyphs" fill="#000">subtype</text>
<text x="339.37" y="499.50" font-size="26" textLength="14.06" lengthAdjust="spacingAndGlyphs" fill="#000">1</text>
<text x="360.32" y="499.50" font-size="26" textLength="42.42" lengthAdjust="spacingAndGlyphs" fill="#000">and</text>
<text x="409.19" y="499.50" font-size="26" textLength="89.85" lengthAdjust="spacingAndGlyphs" fill="#000">subtype</text>
<text x="506.14" y="499.50" font-size="26" textLength="13.92" lengthAdjust="spacingAndGlyphs" fill="#000">2</text>
<rect x="31.5" y="524" width="42.2" height="22.8" fill="#FA8072"/>
<rect x="212" y="524" width="42.4" height="22.6" fill="#FED6AA"/>
<text x="85.53" y="540.30" font-size="16.5" textLength="62.12" lengthAdjust="spacingAndGlyphs" fill="#000">Subtype</text>
<text x="152.56" y="540.30" font-size="16.5" textLength="9.03" lengthAdjust="spacingAndGlyphs" fill="#000">1</text>
<text x="266.43" y="539.50" font-size="16.5" textLength="61.92" lengthAdjust="spacingAndGlyphs" fill="#000">Subtype</text>
<text x="333.02" y="539.50" font-size="16.5" textLength="8.67" lengthAdjust="spacingAndGlyphs" fill="#000">2</text>
<line x1="77.10" y1="598.60" x2="77.10" y2="860.30" stroke="#2a2a2a" stroke-width="1.9" stroke-linecap="butt"/>
<line x1="76.15" y1="859.40" x2="685.00" y2="859.40" stroke="#2a2a2a" stroke-width="1.9" stroke-linecap="butt"/>
<line x1="77.00" y1="599.30" x2="83.90" y2="599.30" stroke="#262626" stroke-width="1.5" stroke-linecap="butt"/>
<line x1="77.00" y1="729.30" x2="83.90" y2="729.30" stroke="#262626" stroke-width="1.5" stroke-linecap="butt"/>
<line x1="77.00" y1="859.30" x2="83.90" y2="859.30" stroke="#262626" stroke-width="1.5" stroke-linecap="butt"/>
<text x="66.60" y="606.90" font-size="19" text-anchor="end" fill="#000">120</text>
<text x="66.60" y="736.90" font-size="19" text-anchor="end" fill="#000">60</text>
<text x="66.60" y="866.90" font-size="19" text-anchor="end" fill="#000">0</text>
<text x="23.80" y="756.90" font-size="22.3" textLength="51.2" lengthAdjust="spacingAndGlyphs" transform="rotate(-90 23.80 756.90)" fill="#000">Score</text>
<line x1="147.00" y1="859.30" x2="147.00" y2="853.00" stroke="#262626" stroke-width="1.5" stroke-linecap="butt"/>
<text x="146.60" y="892.60" font-size="19" textLength="62.5" lengthAdjust="spacingAndGlyphs" text-anchor="middle" fill="#000">CTQ-EA</text>
<line x1="240.45" y1="859.30" x2="240.45" y2="853.00" stroke="#262626" stroke-width="1.5" stroke-linecap="butt"/>
<text x="240.05" y="892.60" font-size="19" textLength="56" lengthAdjust="spacingAndGlyphs" text-anchor="middle" fill="#000">CTQ-EI</text>
<line x1="333.90" y1="859.30" x2="333.90" y2="853.00" stroke="#262626" stroke-width="1.5" stroke-linecap="butt"/>
<text x="333.50" y="892.60" font-size="19" textLength="61.5" lengthAdjust="spacingAndGlyphs" text-anchor="middle" fill="#000">CTQ-PA</text>
<line x1="427.35" y1="859.30" x2="427.35" y2="853.00" stroke="#262626" stroke-width="1.5" stroke-linecap="butt"/>
<text x="426.95" y="892.60" font-size="19" textLength="56.5" lengthAdjust="spacingAndGlyphs" text-anchor="middle" fill="#000">CTQ-PI</text>
<line x1="520.80" y1="859.30" x2="520.80" y2="853.00" stroke="#262626" stroke-width="1.5" stroke-linecap="butt"/>
<text x="520.40" y="892.60" font-size="19" textLength="62" lengthAdjust="spacingAndGlyphs" text-anchor="middle" fill="#000">CTQ-SA</text>
<line x1="614.25" y1="859.30" x2="614.25" y2="853.00" stroke="#262626" stroke-width="1.5" stroke-linecap="butt"/>
<text x="613.85" y="892.60" font-size="19" textLength="52" lengthAdjust="spacingAndGlyphs" text-anchor="middle" fill="#000">CTQ-T</text>
<g fill="#F6645A" fill-opacity="0.6"><circle cx="121.40" cy="807.50" r="3.1"/><circle cx="139.80" cy="807.50" r="3.1"/><circle cx="113.50" cy="815.80" r="3.1"/><circle cx="116.80" cy="817.30" r="3.1"/><circle cx="142.40" cy="814.00" r="3.1"/><circle cx="139.20" cy="818.00" r="3.1"/><circle cx="117.50" cy="820.60" r="3.1"/><circle cx="134.60" cy="824.60" r="3.1"/><circle cx="136.50" cy="821.30" r="3.1"/><circle cx="116.80" cy="829.40" r="3.1"/><circle cx="139.80" cy="829.40" r="3.1"/><circle cx="122.10" cy="833.10" r="3.1"/><circle cx="126.70" cy="833.10" r="3.1"/><circle cx="114.20" cy="837.70" r="3.1"/><circle cx="142.40" cy="837.70" r="3.1"/><circle cx="114.90" cy="841.60" r="3.1"/><circle cx="118.80" cy="844.30" r="3.1"/><circle cx="130.60" cy="842.30" r="3.1"/><circle cx="124.70" cy="846.90" r="3.1"/><circle cx="138.50" cy="833.40" r="3.1"/><circle cx="214.40" cy="804.90" r="3.1"/><circle cx="221.60" cy="804.20" r="3.1"/><circle cx="234.10" cy="804.90" r="3.1"/><circle cx="223.00" cy="807.50" r="3.1"/><circle cx="232.80" cy="809.50" r="3.1"/><circle cx="216.40" cy="815.40" r="3.1"/><circle cx="207.90" cy="818.00" r="3.1"/><circle cx="237.40" cy="816.00" r="3.1"/><circle cx="227.60" cy="816.00" r="3.1"/><circle cx="220.30" cy="820.60" r="3.1"/><circle cx="229.50" cy="821.90" r="3.1"/><circle cx="211.80" cy="821.30" r="3.1"/><circle cx="232.20" cy="824.60" r="3.1"/><circle cx="222.30" cy="825.90" r="3.1"/><circle cx="238.10" cy="827.20" r="3.1"/><circle cx="219.70" cy="828.50" r="3.1"/><circle cx="213.80" cy="831.10" r="3.1"/><circle cx="223.00" cy="833.80" r="3.1"/><circle cx="233.50" cy="835.70" r="3.1"/><circle cx="236.10" cy="846.20" r="3.1"/><circle cx="318.20" cy="819.90" r="3.1"/><circle cx="316.30" cy="823.80" r="3.1"/><circle cx="303.80" cy="829.10" r="3.1"/><circle cx="312.30" cy="829.10" r="3.1"/><circle cx="319.60" cy="829.10" r="3.1"/><circle cx="299.90" cy="835.00" r="3.1"/><circle cx="307.70" cy="841.50" r="3.1"/><circle cx="316.90" cy="841.50" r="3.1"/><circle cx="323.50" cy="844.20" r="3.1"/><circle cx="299.20" cy="848.10" r="3.1"/><circle cx="307.00" cy="848.10" r="3.1"/><circle cx="312.30" cy="848.10" r="3.1"/><circle cx="322.20" cy="848.10" r="3.1"/><circle cx="329.40" cy="848.10" r="3.1"/><circle cx="331.40" cy="846.80" r="3.1"/><circle cx="314.30" cy="845.50" r="3.1"/><circle cx="402.70" cy="811.80" r="3.1"/><circle cx="415.20" cy="815.80" r="3.1"/><circle cx="393.50" cy="820.40" r="3.1"/><circle cx="417.80" cy="822.30" r="3.1"/><circle cx="406.00" cy="824.30" r="3.1"/><circle cx="398.80" cy="826.30" r="3.1"/><circle cx="396.80" cy="830.90" r="3.1"/><circle cx="403.40" cy="830.90" r="3.1"/><circle cx="410.60" cy="832.20" r="3.1"/><circle cx="400.80" cy="835.50" r="3.1"/><circle cx="408.00" cy="835.50" r="3.1"/><circle cx="412.60" cy="836.80" r="3.1"/><circle cx="396.20" cy="840.10" r="3.1"/><circle cx="420.50" cy="839.40" r="3.1"/><circle cx="400.80" cy="843.40" r="3.1"/><circle cx="405.40" cy="846.00" r="3.1"/><circle cx="419.80" cy="846.00" r="3.1"/><circle cx="505.90" cy="813.50" r="3.1"/><circle cx="513.50" cy="837.80" r="3.1"/><circle cx="495.70" cy="839.80" r="3.1"/><circle cx="486.50" cy="841.80" r="3.1"/><circle cx="491.10" cy="845.70" r="3.1"/><circle cx="487.20" cy="848.40" r="3.1"/><circle cx="495.10" cy="848.40" r="3.1"/><circle cx="501.60" cy="848.40" r="3.1"/><circle cx="508.20" cy="848.40" r="3.1"/><circle cx="513.50" cy="848.40" r="3.1"/><circle cx="492.50" cy="846.50" r="3.1"/><circle cx="499.00" cy="846.50" r="3.1"/><circle cx="504.00" cy="846.50" r="3.1"/><circle cx="510.00" cy="846.50" r="3.1"/><circle cx="592.90" cy="625.00" r="3.1"/><circle cx="579.80" cy="660.00" r="3.1"/><circle cx="595.20" cy="699.10" r="3.1"/><circle cx="590.70" cy="709.60" r="3.1"/><circle cx="591.70" cy="720.00" r="3.1"/><circle cx="590.70" cy="722.10" r="3.1"/><circle cx="591.00" cy="730.50" r="3.1"/><circle cx="599.30" cy="728.40" r="3.1"/><circle cx="600.00" cy="735.40" r="3.1"/><circle cx="584.00" cy="738.20" r="3.1"/><circle cx="607.70" cy="738.20" r="3.1"/><circle cx="606.30" cy="740.30" r="3.1"/><circle cx="599.30" cy="744.50" r="3.1"/><circle cx="602.10" cy="744.50" r="3.1"/><circle cx="598.00" cy="746.60" r="3.1"/><circle cx="600.00" cy="751.50" r="3.1"/><circle cx="605.60" cy="751.50" r="3.1"/><circle cx="610.50" cy="751.50" r="3.1"/><circle cx="598.60" cy="759.20" r="3.1"/><circle cx="601.40" cy="762.00" r="3.1"/><circle cx="603.50" cy="768.30" r="3.1"/><circle cx="590.70" cy="792.00" r="3.1"/></g>
<g fill="#FDBE78" fill-opacity="0.5"><circle cx="156.90" cy="813.40" r="3.1"/><circle cx="178.60" cy="813.40" r="3.1"/><circle cx="171.40" cy="818.00" r="3.1"/><circle cx="174.00" cy="822.60" r="3.1"/><circle cx="150.30" cy="824.60" r="3.1"/><circle cx="158.90" cy="826.50" r="3.1"/><circle cx="163.00" cy="830.00" r="3.1"/><circle cx="180.50" cy="831.10" r="3.1"/><circle cx="160.20" cy="834.40" r="3.1"/><circle cx="169.40" cy="834.40" r="3.1"/><circle cx="151.00" cy="841.00" r="3.1"/><circle cx="176.00" cy="841.00" r="3.1"/><circle cx="158.90" cy="844.90" r="3.1"/><circle cx="162.80" cy="845.60" r="3.1"/><circle cx="157.60" cy="848.90" r="3.1"/><circle cx="167.40" cy="848.90" r="3.1"/><circle cx="172.00" cy="838.00" r="3.1"/><circle cx="155.00" cy="836.00" r="3.1"/><circle cx="243.30" cy="808.80" r="3.1"/><circle cx="255.80" cy="806.80" r="3.1"/><circle cx="256.50" cy="809.50" r="3.1"/><circle cx="249.90" cy="815.40" r="3.1"/><circle cx="273.50" cy="815.40" r="3.1"/><circle cx="261.10" cy="815.40" r="3.1"/><circle cx="253.20" cy="820.60" r="3.1"/><circle cx="263.70" cy="821.90" r="3.1"/><circle cx="266.30" cy="824.60" r="3.1"/><circle cx="249.20" cy="826.50" r="3.1"/><circle cx="246.60" cy="829.20" r="3.1"/><circle cx="255.80" cy="834.40" r="3.1"/><circle cx="263.70" cy="834.40" r="3.1"/><circle cx="269.60" cy="834.40" r="3.1"/><circle cx="262.40" cy="838.40" r="3.1"/><circle cx="252.50" cy="841.60" r="3.1"/><circle cx="259.80" cy="843.60" r="3.1"/><circle cx="268.90" cy="848.20" r="3.1"/><circle cx="274.20" cy="846.90" r="3.1"/><circle cx="274.90" cy="848.90" r="3.1"/><circle cx="345.80" cy="828.40" r="3.1"/><circle cx="341.20" cy="833.60" r="3.1"/><circle cx="349.10" cy="833.60" r="3.1"/><circle cx="354.40" cy="835.60" r="3.1"/><circle cx="359.00" cy="833.60" r="3.1"/><circle cx="368.20" cy="839.60" r="3.1"/><circle cx="362.30" cy="841.50" r="3.1"/><circle cx="353.10" cy="844.20" r="3.1"/><circle cx="338.00" cy="844.80" r="3.1"/><circle cx="340.00" cy="849.00" r="3.1"/><circle cx="345.20" cy="849.00" r="3.1"/><circle cx="355.70" cy="849.00" r="3.1"/><circle cx="361.00" cy="849.00" r="3.1"/><circle cx="431.60" cy="820.40" r="3.1"/><circle cx="456.00" cy="822.30" r="3.1"/><circle cx="441.50" cy="826.90" r="3.1"/><circle cx="460.50" cy="831.50" r="3.1"/><circle cx="434.30" cy="832.80" r="3.1"/><circle cx="440.20" cy="835.50" r="3.1"/><circle cx="452.00" cy="836.80" r="3.1"/><circle cx="458.60" cy="836.80" r="3.1"/><circle cx="432.30" cy="839.40" r="3.1"/><circle cx="445.40" cy="842.00" r="3.1"/><circle cx="454.00" cy="843.40" r="3.1"/><circle cx="433.60" cy="848.00" r="3.1"/><circle cx="444.10" cy="848.00" r="3.1"/><circle cx="460.50" cy="848.60" r="3.1"/><circle cx="524.00" cy="839.80" r="3.1"/><circle cx="527.90" cy="841.80" r="3.1"/><circle cx="548.30" cy="839.80" r="3.1"/><circle cx="545.00" cy="843.80" r="3.1"/><circle cx="539.80" cy="845.70" r="3.1"/><circle cx="526.00" cy="848.40" r="3.1"/><circle cx="531.00" cy="848.40" r="3.1"/><circle cx="537.00" cy="848.40" r="3.1"/><circle cx="543.00" cy="848.40" r="3.1"/><circle cx="549.00" cy="848.40" r="3.1"/><circle cx="553.00" cy="848.40" r="3.1"/><circle cx="633.60" cy="698.40" r="3.1"/><circle cx="648.30" cy="713.80" r="3.1"/><circle cx="623.10" cy="720.00" r="3.1"/><circle cx="629.40" cy="727.00" r="3.1"/><circle cx="635.00" cy="731.90" r="3.1"/><circle cx="621.70" cy="735.40" r="3.1"/><circle cx="648.30" cy="738.20" r="3.1"/><circle cx="625.90" cy="740.30" r="3.1"/><circle cx="636.40" cy="740.30" r="3.1"/><circle cx="618.20" cy="750.80" r="3.1"/><circle cx="636.40" cy="750.80" r="3.1"/><circle cx="642.70" cy="748.70" r="3.1"/><circle cx="630.10" cy="752.70" r="3.1"/><circle cx="638.50" cy="757.80" r="3.1"/><circle cx="621.00" cy="761.30" r="3.1"/><circle cx="646.20" cy="761.30" r="3.1"/><circle cx="632.20" cy="770.40" r="3.1"/><circle cx="646.20" cy="767.60" r="3.1"/><circle cx="632.20" cy="773.80" r="3.1"/><circle cx="626.60" cy="779.40" r="3.1"/><circle cx="623.80" cy="789.90" r="3.1"/><circle cx="634.30" cy="792.00" r="3.1"/><circle cx="645.50" cy="792.00" r="3.1"/><circle cx="641.30" cy="798.30" r="3.1"/><circle cx="617.50" cy="805.30" r="3.1"/></g>
<line x1="128.55" y1="807.30" x2="128.55" y2="819.40" stroke="#000" stroke-width="1.4" stroke-linecap="butt"/>
<line x1="128.55" y1="837.90" x2="128.55" y2="846.50" stroke="#000" stroke-width="1.4" stroke-linecap="butt"/>
<rect x="114.40" y="819.40" width="28.30" height="18.50" fill="none" stroke="#000" stroke-width="1.4"/>
<line x1="114.40" y1="833.40" x2="142.70" y2="833.40" stroke="#000" stroke-width="1.4" stroke-linecap="butt"/>
<line x1="165.85" y1="814.10" x2="165.85" y2="829.00" stroke="#000" stroke-width="1.4" stroke-linecap="butt"/>
<line x1="165.85" y1="842.50" x2="165.85" y2="848.10" stroke="#000" stroke-width="1.4" stroke-linecap="butt"/>
<rect x="151.80" y="829.00" width="28.10" height="13.50" fill="none" stroke="#000" stroke-width="1.4"/>
<line x1="151.80" y1="834.20" x2="179.90" y2="834.20" stroke="#000" stroke-width="1.4" stroke-linecap="butt"/>
<line x1="221.95" y1="805.40" x2="221.95" y2="816.20" stroke="#000" stroke-width="1.4" stroke-linecap="butt"/>
<line x1="221.95" y1="827.40" x2="221.95" y2="835.50" stroke="#000" stroke-width="1.4" stroke-linecap="butt"/>
<rect x="207.30" y="816.20" width="29.30" height="11.20" fill="none" stroke="#000" stroke-width="1.4"/>
<line x1="207.30" y1="819.40" x2="236.60" y2="819.40" stroke="#000" stroke-width="1.4" stroke-linecap="butt"/>
<line x1="259.45" y1="807.40" x2="259.45" y2="818.10" stroke="#000" stroke-width="1.4" stroke-linecap="butt"/>
<line x1="259.45" y1="837.10" x2="259.45" y2="848.30" stroke="#000" stroke-width="1.4" stroke-linecap="butt"/>
<rect x="245.40" y="818.10" width="28.10" height="19.00" fill="none" stroke="#000" stroke-width="1.4"/>
<line x1="245.40" y1="831.50" x2="273.50" y2="831.50" stroke="#000" stroke-width="1.4" stroke-linecap="butt"/>
<line x1="315.45" y1="825.00" x2="315.45" y2="839.20" stroke="#000" stroke-width="1.4" stroke-linecap="butt"/>
<line x1="315.45" y1="848.80" x2="315.45" y2="848.80" stroke="#000" stroke-width="1.4" stroke-linecap="butt"/>
<rect x="301.40" y="839.20" width="28.10" height="9.60" fill="none" stroke="#000" stroke-width="1.4"/>
<line x1="301.40" y1="847.00" x2="329.50" y2="847.00" stroke="#000" stroke-width="1.4" stroke-linecap="butt"/>
<line x1="352.65" y1="833.90" x2="352.65" y2="841.60" stroke="#000" stroke-width="1.4" stroke-linecap="butt"/>
<line x1="352.65" y1="848.60" x2="352.65" y2="848.60" stroke="#000" stroke-width="1.4" stroke-linecap="butt"/>
<rect x="338.60" y="841.60" width="28.10" height="7.00" fill="none" stroke="#000" stroke-width="1.4"/>
<line x1="338.60" y1="847.70" x2="366.70" y2="847.70" stroke="#000" stroke-width="1.4" stroke-linecap="butt"/>
<line x1="408.65" y1="816.20" x2="408.65" y2="829.40" stroke="#000" stroke-width="1.4" stroke-linecap="butt"/>
<line x1="408.65" y1="840.00" x2="408.65" y2="846.40" stroke="#000" stroke-width="1.4" stroke-linecap="butt"/>
<rect x="394.60" y="829.40" width="28.10" height="10.60" fill="none" stroke="#000" stroke-width="1.4"/>
<line x1="394.60" y1="833.90" x2="422.70" y2="833.90" stroke="#000" stroke-width="1.4" stroke-linecap="butt"/>
<line x1="446.35" y1="832.00" x2="446.35" y2="837.90" stroke="#000" stroke-width="1.4" stroke-linecap="butt"/>
<line x1="446.35" y1="844.30" x2="446.35" y2="848.30" stroke="#000" stroke-width="1.4" stroke-linecap="butt"/>
<rect x="432.30" y="837.90" width="28.10" height="6.40" fill="none" stroke="#000" stroke-width="1.4"/>
<line x1="432.30" y1="841.60" x2="460.40" y2="841.60" stroke="#000" stroke-width="1.4" stroke-linecap="butt"/>
<line x1="502.20" y1="838.20" x2="502.20" y2="844.30" stroke="#000" stroke-width="1.4" stroke-linecap="butt"/>
<line x1="502.20" y1="848.80" x2="502.20" y2="848.80" stroke="#000" stroke-width="1.4" stroke-linecap="butt"/>
<rect x="488.00" y="844.30" width="28.40" height="4.50" fill="none" stroke="#000" stroke-width="1.4"/>
<line x1="488.00" y1="848.80" x2="516.40" y2="848.80" stroke="#000" stroke-width="1.4" stroke-linecap="butt"/>
<line x1="595.55" y1="699.10" x2="595.55" y2="724.90" stroke="#000" stroke-width="1.4" stroke-linecap="butt"/>
<line x1="595.55" y1="750.90" x2="595.55" y2="768.30" stroke="#000" stroke-width="1.4" stroke-linecap="butt"/>
<rect x="581.50" y="724.90" width="28.10" height="26.00" fill="none" stroke="#000" stroke-width="1.4"/>
<line x1="581.50" y1="738.00" x2="609.60" y2="738.00" stroke="#000" stroke-width="1.4" stroke-linecap="butt"/>
<line x1="632.90" y1="699.10" x2="632.90" y2="739.20" stroke="#000" stroke-width="1.4" stroke-linecap="butt"/>
<line x1="632.90" y1="777.30" x2="632.90" y2="805.30" stroke="#000" stroke-width="1.4" stroke-linecap="butt"/>
<rect x="618.60" y="739.20" width="28.60" height="38.10" fill="none" stroke="#000" stroke-width="1.4"/>
<line x1="618.60" y1="753.60" x2="647.20" y2="753.60" stroke="#000" stroke-width="1.4" stroke-linecap="butt"/>
<line x1="524.90" y1="848.30" x2="553.90" y2="848.30" stroke="#000" stroke-width="2.6" stroke-linecap="butt"/>
<line x1="214.90" y1="788.90" x2="265.80" y2="788.90" stroke="#000" stroke-width="2.0" stroke-linecap="butt"/>
<line x1="235.50" y1="779.30" x2="244.70" y2="779.30" stroke="#000" stroke-width="1.15" stroke-linecap="round"/>
<line x1="237.80" y1="775.32" x2="242.40" y2="783.28" stroke="#000" stroke-width="1.15" stroke-linecap="round"/>
<line x1="242.40" y1="775.32" x2="237.80" y2="783.28" stroke="#000" stroke-width="1.15" stroke-linecap="round"/>
<line x1="402.00" y1="788.40" x2="452.90" y2="788.40" stroke="#000" stroke-width="2.0" stroke-linecap="butt"/>
<line x1="422.60" y1="779.30" x2="431.80" y2="779.30" stroke="#000" stroke-width="1.15" stroke-linecap="round"/>
<line x1="424.90" y1="775.32" x2="429.50" y2="783.28" stroke="#000" stroke-width="1.15" stroke-linecap="round"/>
<line x1="429.50" y1="775.32" x2="424.90" y2="783.28" stroke="#000" stroke-width="1.15" stroke-linecap="round"/>
<line x1="589.10" y1="616.00" x2="639.50" y2="616.00" stroke="#000" stroke-width="2.0" stroke-linecap="butt"/>
<line x1="609.10" y1="606.00" x2="618.30" y2="606.00" stroke="#000" stroke-width="1.15" stroke-linecap="round"/>
<line x1="611.40" y1="602.02" x2="616.00" y2="609.98" stroke="#000" stroke-width="1.15" stroke-linecap="round"/>
<line x1="616.00" y1="602.02" x2="611.40" y2="609.98" stroke="#000" stroke-width="1.15" stroke-linecap="round"/>
<line x1="577.40" y1="564.10" x2="577.40" y2="577.30" stroke="#000" stroke-width="1.3" stroke-linecap="butt"/>
<line x1="571.68" y1="567.40" x2="583.12" y2="574.00" stroke="#000" stroke-width="1.3" stroke-linecap="butt"/>
<line x1="583.12" y1="567.40" x2="571.68" y2="574.00" stroke="#000" stroke-width="1.3" stroke-linecap="butt"/>
<text x="586.20" y="577.50" font-size="17.4" fill="#000">:</text>
<text x="594.70" y="577.50" font-size="17.4" font-style="italic" fill="#000">p</text>
<text x="605.20" y="581.50" font-size="9.6" textLength="18.5" lengthAdjust="spacingAndGlyphs" fill="#000">FDR</text>
<text x="628.88" y="577.60" font-size="17.4" textLength="9.74" lengthAdjust="spacingAndGlyphs" fill="#000">&lt;</text>
<text x="642.13" y="577.60" font-size="17.4" textLength="33.39" lengthAdjust="spacingAndGlyphs" fill="#000">0.05</text>
</svg></body></html>
